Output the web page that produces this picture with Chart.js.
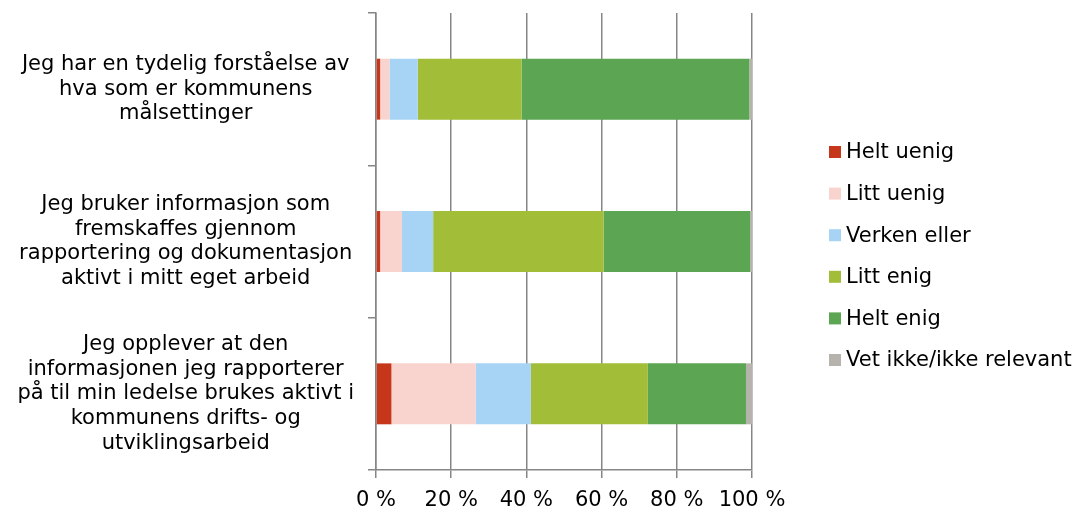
<!DOCTYPE html>
<html>
<head>
<meta charset="utf-8">
<script src="https://cdn.jsdelivr.net/npm/chart.js@4/dist/chart.umd.min.js"></script>
<style>
  html, body { margin: 0; padding: 0; background: #fff; }
</style>
</head>
<body>
<canvas id="chart" width="1086" height="508"></canvas>
<script>
  // Survey statements, one bar each (top to bottom)
  const statements = [
    ["Jeg har en tydelig forståelse av", "hva som er kommunens", "målsettinger"],
    ["Jeg bruker informasjon som", "fremskaffes gjennom", "rapportering og dokumentasjon", "aktivt i mitt eget arbeid"],
    ["Jeg opplever at den", "informasjonen jeg rapporterer", "på til min ledelse brukes aktivt i", "kommunens drifts- og", "utviklingsarbeid"],
  ];

  const seriesNames = ["Helt uenig", "Litt uenig", "Verken eller", "Litt enig", "Helt enig", "Vet ikke/ikke relevant"];
  const seriesColors = ["#c6361b", "#f9d3cd", "#a7d3f4", "#a2be38", "#5ca552", "#b5b3ab"];

  // Share of answers in percent
  const heltUenig = [1.1, 1.1, 4.1];
  const littUenig = [2.5, 5.8, 22.4];
  const verkenEller = [7.5, 8.3, 14.7];
  const littEnig = [27.6, 45.3, 31.1];
  const heltEnig = [60.6, 39.0, 26.1];
  const vetIkke = [0.7, 0.5, 1.6];

  const xTicks = [0, 20, 40, 60, 80, 100];

  const FONT = "Verdana, 'DejaVu Sans', sans-serif";
  const AXIS = "#868686";

  Chart.defaults.font.family = FONT;
  Chart.defaults.font.size = 21;
  Chart.defaults.color = "#000";

  const values = [heltUenig, littUenig, verkenEller, littEnig, heltEnig, vetIkke];

  // legend column to the right of the plot
  const sideLegend = {
    id: "sideLegend",
    afterDraw(chart) {
      const ctx = chart.ctx;
      const x = chart.chartArea.right + 77;
      const step = 41.6;
      const n = chart.data.datasets.length;
      let y = chart.height / 2 + 2 - (step * (n - 1)) / 2;
      ctx.save();
      ctx.font = "21px " + FONT;
      ctx.textBaseline = "middle";
      ctx.textAlign = "left";
      chart.data.datasets.forEach((ds) => {
        ctx.fillStyle = ds.backgroundColor;
        ctx.fillRect(x, y - 6, 12, 12);
        ctx.fillStyle = "#000";
        ctx.fillText(ds.label, x + 17, y + 1);
        y += step;
      });
      ctx.restore();
    },
  };

  new Chart(document.getElementById("chart").getContext("2d"), {
    type: "bar",
    data: {
      labels: statements,
      datasets: seriesNames.map((name, i) => ({
        label: name,
        data: values[i],
        backgroundColor: seriesColors[i],
        borderWidth: 0,
        categoryPercentage: 1,
        barPercentage: 0.4,
      })),
    },
    options: {
      indexAxis: "y",
      responsive: false,
      animation: false,
      layout: { padding: { top: 13, right: 334, left: 0, bottom: 0 } },
      plugins: {
        legend: { display: false },
        tooltip: { enabled: false },
      },
      scales: {
        x: {
          stacked: true,
          min: 0,
          max: 100,
          afterBuildTicks: (scale) => {
            scale.ticks = xTicks.map((v) => ({ value: v }));
          },
          afterFit: (scale) => {
            scale.height = 38;
          },
          ticks: {
            callback: (v) => v + " %",
            padding: 12,
            font: { size: 21, lineHeight: 1 },
            maxRotation: 0,
          },
          grid: { color: AXIS, lineWidth: 1.5, tickLength: 8 },
          border: { color: AXIS, width: 1.5 },
        },
        y: {
          stacked: true,
          afterFit: (scale) => {
            // multi-line labels must not shrink the plot vertically
            scale.width = 376;
            scale.paddingTop = 0;
            scale.paddingBottom = 0;
          },
          ticks: {
            crossAlign: "center",
            padding: 14,
            autoSkip: false,
            font: { size: 21, lineHeight: 1.18 },
          },
          grid: { drawOnChartArea: false, color: AXIS, lineWidth: 1.5, tickLength: 8 },
          border: { color: AXIS, width: 1.5 },
        },
      },
    },
    plugins: [sideLegend],
  });
</script>
</body>
</html>
